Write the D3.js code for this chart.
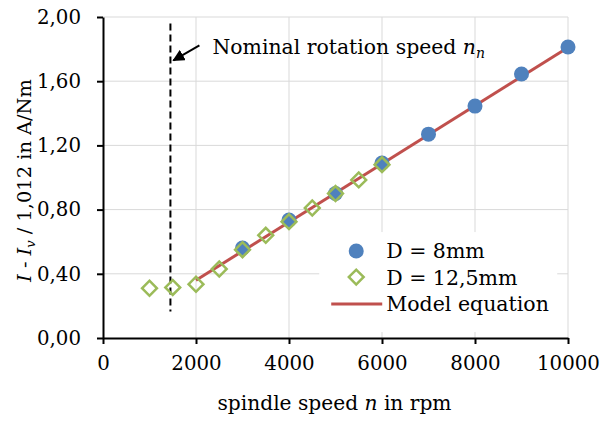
<!DOCTYPE html>
<html>
<head>
<meta charset="utf-8">
<script src="https://cdn.jsdelivr.net/npm/d3@7"></script>
<style>
  body { margin: 0; background: #fff; }
  text { font-family: "DejaVu Serif", serif; fill: #000; }
</style>
</head>
<body>
<svg id="chart" width="601" height="423"></svg>
<script>
// Current vs. spindle speed, two tool diameters plus model line

const speed8 = [3000, 4000, 5000, 6000, 7000, 8000, 9000, 10000];
const value8 = [0.56, 0.735, 0.90, 1.09, 1.27, 1.445, 1.645, 1.813];

const speed125 = [1000, 1500, 2000, 2500, 3000, 3500, 4000, 4500, 5000, 5500, 6000];
const value125 = [0.31, 0.315, 0.335, 0.43, 0.55, 0.64, 0.725, 0.81, 0.90, 0.985, 1.08];

const modelSpeed = [2000, 10000];
const modelValue = [0.36, 1.81];

const nominalSpeed = 1450;
const xTicks = [0, 2000, 4000, 6000, 8000, 10000];
const yTicks = [0, 0.4, 0.8, 1.2, 1.6, 2.0];

const svg = d3.select("#chart");
const margin = { top: 17, right: 33, bottom: 85, left: 103 };
const W = 601, H = 423;
const innerW = W - margin.left - margin.right;
const innerH = H - margin.top - margin.bottom;

const x = d3.scaleLinear().domain([0, 10000]).range([0, innerW]);
const y = d3.scaleLinear().domain([0, 2]).range([innerH, 0]);

const g = svg.append("g").attr("transform", `translate(${margin.left},${margin.top})`);

const fmt = v => d3.format(".2f")(v).replace(".", ",");

// grid
xTicks.filter(v => v > 0).forEach(v => {
    g.append("line").attr("x1", x(v)).attr("x2", x(v)).attr("y1", 0).attr("y2", innerH)
        .attr("stroke", "#d9d9d9").attr("stroke-width", 1);
});
yTicks.filter(v => v > 0).forEach(v => {
    g.append("line").attr("x1", 0).attr("x2", innerW).attr("y1", y(v)).attr("y2", y(v))
        .attr("stroke", "#d9d9d9").attr("stroke-width", 1);
});

// axes
const xAxis = g.append("g").attr("transform", `translate(0,${innerH})`)
    .call(d3.axisBottom(x).tickValues(xTicks).tickSize(6).tickSizeOuter(0).tickPadding(12).tickFormat(d3.format("d")));
const yAxis = g.append("g")
    .call(d3.axisLeft(y).tickValues(yTicks).tickSize(6).tickSizeOuter(0).tickPadding(16).tickFormat(fmt));
[xAxis, yAxis].forEach(a => {
    a.select(".domain").attr("stroke", "#000").attr("stroke-width", 2);
    a.selectAll(".tick line").attr("stroke", "#000").attr("stroke-width", 2);
    a.selectAll(".tick text").attr("font-family", "DejaVu Serif").attr("font-size", 19.8).attr("fill", "#000");
});
xAxis.selectAll(".tick text").attr("dy", "0.71em");

// nominal speed dashed line
g.append("line")
    .attr("x1", x(nominalSpeed)).attr("x2", x(nominalSpeed))
    .attr("y1", y(1.96)).attr("y2", y(0.165))
    .attr("stroke", "#000").attr("stroke-width", 2).attr("stroke-dasharray", "7,4");

// arrow + annotation
svg.append("defs").append("marker")
    .attr("id", "arrow").attr("viewBox", "0 0 10 10").attr("refX", 9).attr("refY", 5)
    .attr("markerWidth", 6).attr("markerHeight", 6).attr("orient", "auto")
    .append("path").attr("d", "M0,0L10,5L0,10Z").attr("fill", "#000");

g.append("line")
    .attr("x1", x(nominalSpeed) + 29).attr("y1", y(1.96) + 22)
    .attr("x2", x(nominalSpeed) + 3).attr("y2", y(1.96) + 37)
    .attr("stroke", "#000").attr("stroke-width", 2).attr("marker-end", "url(#arrow)");

const note = g.append("text")
    .attr("x", x(nominalSpeed) + 42).attr("y", y(1.96) + 31)
    .attr("font-size", 20.4);
note.append("tspan").text("Nominal rotation speed ");
note.append("tspan").attr("font-style", "italic").text("n");
note.append("tspan").attr("font-style", "italic").attr("font-size", 14).attr("dy", 4).text("n");

// model line
const line = d3.line().x(d => x(d[0])).y(d => y(d[1]));
g.append("path")
    .datum(modelSpeed.map((s, i) => [s, modelValue[i]]))
    .attr("d", line).attr("fill", "none").attr("stroke", "#c0504d").attr("stroke-width", 3);

// D = 8mm circles
g.selectAll(".c8").data(speed8.map((s, i) => [s, value8[i]])).join("circle")
    .attr("class", "c8")
    .attr("cx", d => x(d[0])).attr("cy", d => y(d[1])).attr("r", 7.5)
    .attr("fill", "#4f81bd");

// D = 12,5mm diamonds
const diamond = d3.symbol().type(d3.symbolSquare).size(110);
g.selectAll(".d125").data(speed125.map((s, i) => [s, value125[i]])).join("path")
    .attr("class", "d125")
    .attr("d", diamond)
    .attr("transform", d => `translate(${x(d[0])},${y(d[1])}) rotate(45)`)
    .attr("fill", "none").attr("stroke", "#9bbb59").attr("stroke-width", 2.5);

// legend
const lg = g.append("g").attr("transform", `translate(${x(4650)},${y(0.66)})`);
lg.append("rect").attr("width", 238).attr("height", 100).attr("fill", "#fff");
lg.append("circle").attr("cx", 37).attr("cy", 19).attr("r", 7.5).attr("fill", "#4f81bd");
lg.append("path").attr("d", diamond)
    .attr("transform", "translate(37,45) rotate(45)")
    .attr("fill", "none").attr("stroke", "#9bbb59").attr("stroke-width", 2.5);
lg.append("line").attr("x1", 12).attr("x2", 63).attr("y1", 72).attr("y2", 72)
    .attr("stroke", "#c0504d").attr("stroke-width", 3);
["D = 8mm", "D = 12,5mm", "Model equation"].forEach((t, i) => {
    lg.append("text").attr("x", 67).attr("y", 19 + i * 26.5).attr("dy", "0.36em")
        .attr("font-size", 20.5).text(t);
});

// axis titles
const xt = svg.append("text")
    .attr("x", margin.left + innerW / 2 - 1).attr("y", 410)
    .attr("text-anchor", "middle").attr("font-size", 20.2);
xt.append("tspan").text("spindle speed ");
xt.append("tspan").attr("font-style", "italic").text("n");
xt.append("tspan").text(" in rpm");

const yt = svg.append("text")
    .attr("transform", `translate(31,${margin.top + innerH / 2 + 3}) rotate(-90)`)
    .attr("text-anchor", "middle").attr("font-size", 19.4);
yt.append("tspan").attr("font-style", "italic").text("I");
yt.append("tspan").text(" - ");
yt.append("tspan").attr("font-style", "italic").text("I");
yt.append("tspan").attr("font-style", "italic").attr("font-size", 13).attr("dy", 4).text("v");
yt.append("tspan").attr("dy", -4).text(" / 1,012 in A/Nm");
</script>
</body>
</html>
